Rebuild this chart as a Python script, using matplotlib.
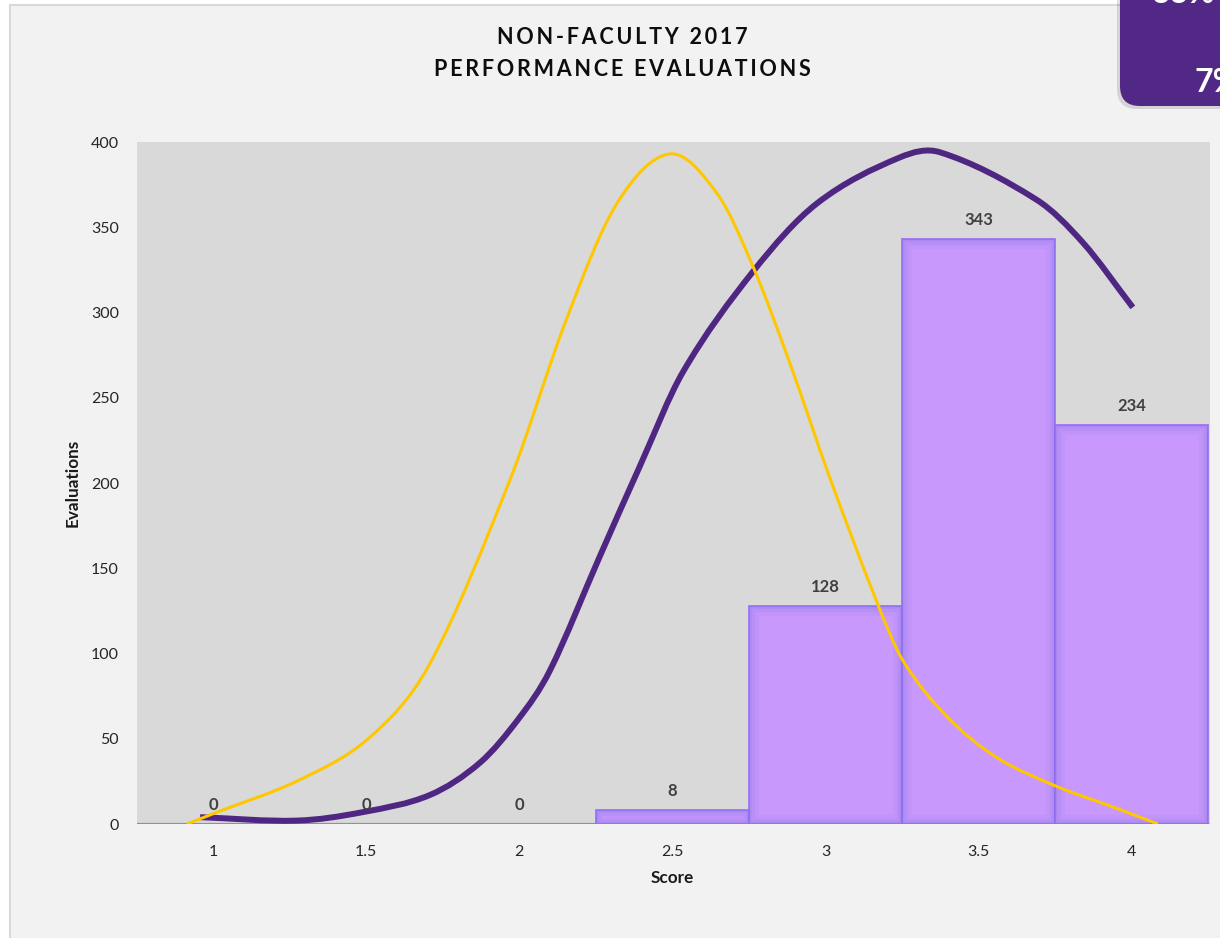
import numpy as np
import matplotlib
matplotlib.use("Agg")
import matplotlib.pyplot as plt
from matplotlib.path import Path
from matplotlib.patches import PathPatch, Rectangle, FancyBboxPatch
from matplotlib.transforms import IdentityTransform

plt.rcParams['font.family'] = ['Lato', 'DejaVu Sans']

# 評価点ごとの件数
scores = [1, 1.5, 2, 2.5, 3, 3.5, 4]
score_labels = ['1', '1.5', '2', '2.5', '3', '3.5', '4']
counts = [0, 0, 0, 8, 128, 343, 234]

# 黄色の曲線 (基準の分布)
gold_x = [0.915, 1.0, 1.284, 1.513, 1.708, 1.970, 2.156, 2.319, 2.492,
          2.645, 2.763, 2.884, 3.014, 3.168, 3.252, 3.396, 3.559, 3.755, 3.938, 4.085]
gold_y = [0, 6, 26, 51, 94, 202, 297, 364, 393,
          370, 327, 270, 203, 130, 96, 63, 39, 22, 10, 0]

# 紫の曲線 (実際の分布)
purple_x = [0.958, 1.274, 1.490, 1.708, 1.872, 1.999, 2.100, 2.263, 2.394,
            2.534, 2.763, 2.972, 3.243, 3.373, 3.690, 3.840, 4.003]
purple_y = [4, 2, 7, 17, 36, 62, 90, 157, 210,
            265, 324, 364, 391, 394, 366, 341, 303]

title_lines = ['NON-FACULTY 2017', 'PERFORMANCE EVALUATIONS']


def smooth_path(x, y):
    # x 方向のエルミート補間をベジェ曲線で描く
    x = np.asarray(x, float)
    y = np.asarray(y, float)
    n = len(x)
    m = np.empty(n)
    m[0] = (y[1] - y[0]) / (x[1] - x[0])
    m[-1] = (y[-1] - y[-2]) / (x[-1] - x[-2])
    m[1:-1] = (y[2:] - y[:-2]) / (x[2:] - x[:-2])
    verts = [(x[0], y[0])]
    codes = [Path.MOVETO]
    for i in range(n - 1):
        dx = x[i + 1] - x[i]
        verts += [(x[i] + dx / 3, y[i] + m[i] * dx / 3),
                  (x[i + 1] - dx / 3, y[i + 1] - m[i + 1] * dx / 3),
                  (x[i + 1], y[i + 1])]
        codes += [Path.CURVE4] * 3
    return Path(verts, codes)


def spaced(s, gap='\u200a\u200a'):
    return gap.join(s)


W, H = 1220, 938
fig = plt.figure(figsize=(W / 100, H / 100), dpi=100, facecolor='white')

# グラフエリアの背景
fig.patches.append(Rectangle((10 / W, -0.02), 1.1, 1 - 5 / H + 0.02, transform=fig.transFigure,
                             facecolor='#f2f2f2', edgecolor='#d9d9d9', lw=1.5, zorder=-1))

ax = fig.add_axes([137 / W, 1 - 824 / H, (1210 - 137) / W, (824 - 142) / H], zorder=1)
ax.set_facecolor('#d9d9d9')
for s in ax.spines.values():
    s.set_visible(False)
ax.axhline(0, color='#bfbfbf', lw=2.5, zorder=1)

bars = ax.bar(scores, counts, width=0.5, color='#c998fd', edgecolor='#9a6cf6', lw=1.2, zorder=2)
# 内側のぼかし
for b in bars:
    for lw, a in [(14, 0.10), (8, 0.14), (4, 0.18)]:
        r = Rectangle(b.get_xy(), b.get_width(), b.get_height(), facecolor='none',
                      edgecolor='#7f74e6', lw=lw, alpha=a, zorder=2.1)
        ax.add_patch(r)
        r.set_clip_path(b)

for x, v in zip(scores, counts):
    ax.annotate(str(v), (x, v), xytext=(0, 8), textcoords='offset points', ha='center', va='bottom',
                fontsize=12, fontweight='bold', color='#404040', zorder=5)

ax.add_patch(PathPatch(smooth_path(purple_x, purple_y), fill=False, edgecolor='#4f2783',
                       lw=4.3, capstyle='butt', zorder=3))
ax.add_patch(PathPatch(smooth_path(gold_x, gold_y), fill=False, edgecolor='#ffc700',
                       lw=2.2, capstyle='butt', zorder=4))

ax.set_xlim(0.752, 4.255)
ax.set_ylim(0, 400)
ax.set_xticks(scores)
ax.set_xticklabels(score_labels)
ax.set_yticks(range(0, 401, 50))
ax.tick_params(length=0, labelsize=11.5, labelcolor='#262626')
ax.tick_params(axis='x', pad=15)
ax.tick_params(axis='y', pad=13)

fig.text(672 / W, 1 - 878 / H, 'Score', ha='center', va='center', fontsize=12.3,
         fontweight='bold', color='#1a1a1a')
fig.text(73 / W, 1 - 483 / H, 'Evaluations', ha='center', va='center', rotation=90,
         fontsize=12.3, fontweight='bold', color='#1a1a1a')

fig.text(622 / W, 1 - 38 / H, spaced(title_lines[0]), ha='center', va='center',
         fontsize=15.5, fontweight='bold', color='#0d0d0d')
fig.text(622 / W, 1 - 69 / H, spaced(title_lines[1]), ha='center', va='center',
         fontsize=15.5, fontweight='bold', color='#0d0d0d')

# 右上の紫のボックス
shadow = FancyBboxPatch((1117, H - 109), 140, 140, boxstyle='round,pad=0,rounding_size=20',
                        transform=IdentityTransform(), facecolor='#000000', alpha=0.12,
                        edgecolor='none', zorder=5)
box = FancyBboxPatch((1120, H - 106), 140, 140, boxstyle='round,pad=0,rounding_size=20',
                     transform=IdentityTransform(), facecolor='#522886', edgecolor='none', zorder=6)
fig.patches.extend([shadow, box])
fig.text(1194, H - 82, '7%', transform=IdentityTransform(), ha='left', va='center',
         fontsize=23, fontweight='bold', color='white', zorder=7)
fig.text(1152, H - 3, '33%', transform=IdentityTransform(), ha='left', va='baseline',
         fontsize=23, fontweight='bold', color='white', zorder=7)

fig.savefig('out.png', dpi=100, facecolor=fig.get_facecolor())
